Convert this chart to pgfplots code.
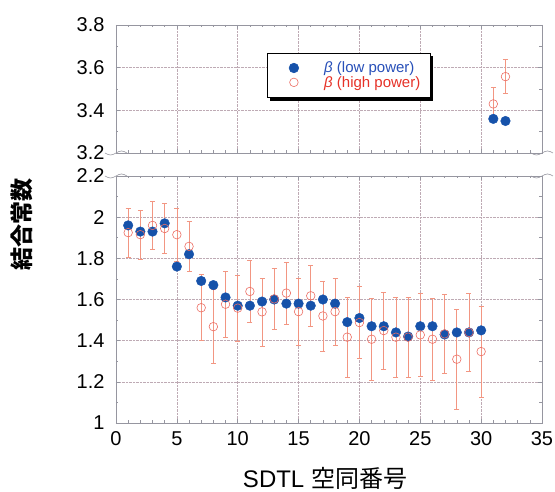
\documentclass[border=0pt]{standalone}
\usepackage{fontspec}
\setmainfont{Liberation Sans}
\newfontfamily\cjk{Noto Sans CJK JP}
\usepackage{pgfplots}
\usepackage{pgfplotstable}
\pgfplotsset{compat=1.18}
\usetikzlibrary{shadows}
\definecolor{lowblue}{RGB}{22,82,170}
\definecolor{highred}{RGB}{236,110,100}
\definecolor{errcol}{RGB}{242,150,130}
\definecolor{gridcol}{RGB}{190,170,180}
\definecolor{framecol}{RGB}{150,150,160}
\definecolor{legblue}{RGB}{40,80,185}
\definecolor{legred}{RGB}{230,50,40}

\pgfplotstableread{
x y
1 1.96
2 1.93
3 1.93
4 1.97
5 1.76
6 1.82
7 1.69
8 1.67
9 1.61
10 1.57
11 1.57
12 1.59
13 1.60
14 1.58
15 1.58
16 1.57
17 1.60
18 1.58
19 1.49
20 1.51
21 1.47
22 1.47
23 1.44
24 1.42
25 1.47
26 1.47
27 1.43
28 1.44
29 1.44
30 1.45
}\lowbottom

\pgfplotstableread{
x y e
1 1.925 0.12
2 1.915 0.12
3 1.96 0.115
4 1.945 0.12
5 1.915 0.13
6 1.858 0.12
7 1.56 0.16
8 1.468 0.18
9 1.577 0.16
10 1.558 0.16
11 1.639 0.15
12 1.54 0.165
13 1.603 0.15
14 1.631 0.15
15 1.541 0.163
16 1.618 0.15
17 1.52 0.17
18 1.541 0.163
19 1.417 0.195
20 1.488 0.176
21 1.407 0.199
22 1.449 0.187
23 1.417 0.195
24 1.417 0.196
25 1.428 0.2
26 1.407 0.199
27 1.433 0.193
28 1.31 0.243
29 1.44 0.188
30 1.347 0.222
}\highbottom

\pgfplotstableread{
x y
31 3.36
32 3.35
}\lowtop

\pgfplotstableread{
x y e
31 3.43 0.08
32 3.558 0.08
}\hightop

\pgfplotsset{
 brk/.style={
   scale only axis, width=426pt, xmin=0, xmax=35,
   xtick={0,5,...,35}, minor x tick num=4,
   grid=major, major grid style={gridcol, densely dotted, line width=0.5pt},
   axis line style={framecol, line width=0.6pt},
   tick style={framecol, line width=0.5pt},
   major tick length=4pt, minor tick length=2.5pt,
   tick label style={font=\fontsize{20}{20}\selectfont},
   yticklabel style={xshift=-8pt},
   xticklabel style={yshift=-5pt},
   /pgf/number format/assume math mode=true,
   /pgf/number format/fixed,
   clip=false,
 },
 lowsty/.style={only marks, mark=*, mark size=4.8pt, mark options={fill=lowblue, draw=lowblue}},
 highsty/.style={only marks, mark=o, mark size=4.3pt, mark options={draw=highred, line width=0.6pt},
   error bars/.cd, y dir=both, y explicit,
   error bar style={errcol, line width=0.6pt},
   error mark options={errcol, rotate=90, mark size=2.5pt, line width=0.6pt}},
}

\begin{document}
\begin{tikzpicture}
\path[use as bounding box] (-116pt,-69pt) rectangle (439pt,423pt);

\begin{axis}[brk, at={(0,0)}, anchor=south west, height=247pt,
  ymin=1, ymax=2.2, ytick={1,1.2,1.4,1.6,1.8,2,2.2}, minor y tick num=1]
\addplot[lowsty] table[x=x,y=y] {\lowbottom};
\addplot[highsty] table[x=x,y=y,y error=e] {\highbottom};
\end{axis}

\begin{axis}[brk, at={(0,270pt)}, anchor=south west, height=128pt,
  ymin=3.2, ymax=3.8, ytick={3.2,3.4,3.6,3.8}, minor y tick num=1,
  xticklabels={},
  legend cell align=left,
  legend image code/.code={\path (0pt,0pt); \draw[#1] plot coordinates {(18.5pt,0pt)};},
  legend style={at={(0.354,0.785)}, anchor=north west, draw=black, line width=0.6pt,
    fill=white, drop shadow={shadow xshift=3pt, shadow yshift=-3pt, fill=black, opacity=1},
    inner xsep=8pt, inner ysep=7pt, font=\fontsize{15}{17}\selectfont,
    /tikz/every odd column/.style={column sep=23.5pt}, row sep=-2pt}]
\addplot[lowsty] table[x=x,y=y] {\lowtop};
\addlegendentry{\textcolor{legblue}{\textit{β} (low power)}}
\addplot[highsty] table[x=x,y=y,y error=e] {\hightop};
\addlegendentry{\textcolor{legred}{\textit{β} (high power)}}
\end{axis}

% axis break marks
\foreach \yy in {270pt,247pt}{
  \draw[framecol, line width=0.6pt] (-11pt,\yy) sin (-5.5pt,\yy-2pt) cos (0pt,\yy) sin (5.5pt,\yy+2pt) cos (11pt,\yy);
  \draw[framecol, line width=0.6pt] (415pt,\yy) sin (420.5pt,\yy-2pt) cos (426pt,\yy) sin (431.5pt,\yy+2pt) cos (437pt,\yy);
}

\node[rotate=90, font=\cjk\bfseries\fontsize{23}{23}\selectfont] at (-94pt,198pt) {結合常数};
\node[font=\fontsize{24}{24}\selectfont] at (209pt,-55pt) {SDTL {\cjk 空同番号}};
\end{tikzpicture}
\end{document}
